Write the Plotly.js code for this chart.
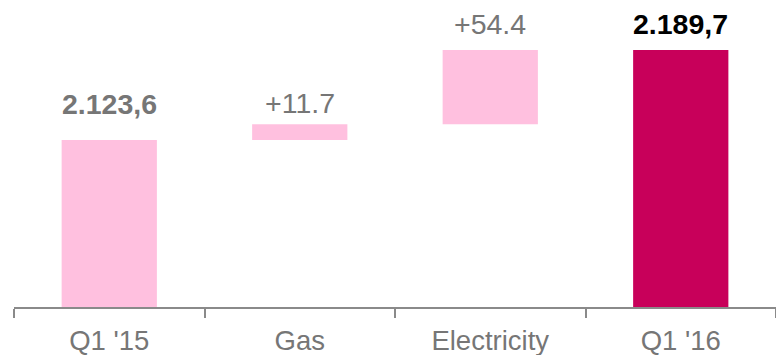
<!DOCTYPE html>
<html><head><meta charset="utf-8">
<script src="https://cdn.plot.ly/plotly-3.0.1.min.js"></script>
<style>html,body{margin:0;padding:0;background:#fff}#c{width:776px;height:355px}</style>
</head><body><div id="c"></div>
<script>
const categories = ["Q1 '15", "Gas", "Electricity", "Q1 '16"];
const measures = ["absolute", "relative", "relative", "total"];
const values = [2123.6, 11.7, 54.4, 2189.7];
const labels = ["2.123,6", "+11.7", "+54.4", "2.189,7"];

const lightPink = "#FFC0DF", darkPink = "#C8005A", gray = "#767676";
// compute bases/tops
let running = 0; const bases = [], heights = [], tops = [];
values.forEach((v, i) => {
  if (measures[i] === "relative") { bases.push(running); heights.push(v); running += v; }
  else { bases.push(0); heights.push(v); running = v; }
  tops.push(bases[i] + heights[i]);
});
const colors = measures.map(m => m === "total" ? darkPink : lightPink);
const labelStyle = [
  {bold: true, color: gray, shift: 18},
  {bold: false, color: gray, shift: 3},
  {bold: false, color: gray, shift: 8},
  {bold: true, color: "#000000", shift: 8}
];
const annotations = categories.map((c, i) => ({
  x: c, y: tops[i], xref: "x", yref: "y", yanchor: "bottom",
  text: labelStyle[i].bold ? "<b>" + labels[i] + "</b>" : labels[i],
  showarrow: false, yshift: labelStyle[i].shift,
  font: {family: "Arial, 'Liberation Sans', sans-serif", size: 28.5, color: labelStyle[i].color}
}));

Plotly.newPlot("c", [{
  type: "bar", x: categories, y: heights, base: bases,
  marker: {color: colors, line: {width: 0}}, width: 0.5,
  hoverinfo: "none", cliponaxis: true
}], {
  width: 776, height: 355,
  margin: {l: 14, r: 0, t: 0, b: 48},
  paper_bgcolor: "#fff", plot_bgcolor: "#fff",
  showlegend: false,
  xaxis: {
    range: [-0.5, 3.5], showline: true, linecolor: "#8a8a8a", linewidth: 2,
    ticks: "outside", tickson: "boundaries", ticklen: 9, tickwidth: 2, tickcolor: "#8a8a8a",
    ticklabelstandoff: 8,
    showgrid: false, zeroline: false,
    tickfont: {family: "Arial, 'Liberation Sans', sans-serif", size: 27.5, color: gray}
  },
  yaxis: {range: [2001, 2226.5], visible: false, showgrid: false, zeroline: false},
  annotations: annotations
}, {staticPlot: true});
</script></body></html>
